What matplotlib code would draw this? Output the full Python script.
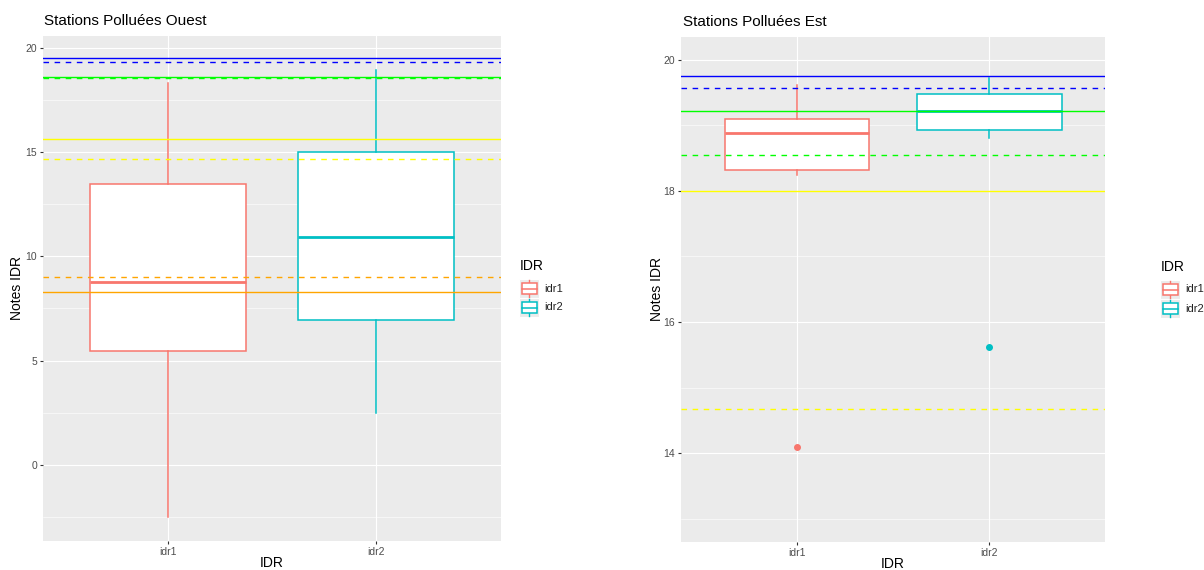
import matplotlib
matplotlib.use('Agg')
import matplotlib.pyplot as plt
from matplotlib.patches import Rectangle

plt.rcParams['font.family'] = ['Liberation Sans', 'DejaVu Sans']

W, H = 1204, 570

categories = ['idr1', 'idr2']
box_colors = ['#F8766D', '#00BFC4']

# Stations Polluees Ouest (box stats)
ouest_whislo = [-2.5, 2.48]
ouest_q1 = [5.47, 6.95]
ouest_med = [8.77, 10.93]
ouest_q3 = [13.48, 15.0]
ouest_whishi = [18.32, 18.93]
ouest_fliers = [[], []]
ouest_ref_solid = [19.49, 18.58, 15.61, 8.28]
ouest_ref_dashed = [19.31, 18.53, 14.67, 9.01]

# Stations Polluees Est
est_whislo = [18.24, 18.80]
est_q1 = [18.32, 18.93]
est_med = [18.88, 19.21]
est_q3 = [19.10, 19.48]
est_whishi = [19.61, 19.72]
est_fliers = [[14.09], [15.62]]
est_ref_solid = [19.75, 19.22, 18.0]
est_ref_dashed = [19.57, 18.54, 14.67]

ref_colors = ['blue', '#00FF00', '#FFFF00', '#FFA500']


def px_axes(fig, x0, y0, x1, y1):
    return fig.add_axes([x0 / W, 1 - y1 / H, (x1 - x0) / W, (y1 - y0) / H])


def panel(ax, whislo, q1, med, q3, whishi, fliers, solid, dashed, ylim, ticks, minor):
    stats = []
    for i in range(len(categories)):
        stats.append(dict(whislo=whislo[i], q1=q1[i], med=med[i], q3=q3[i],
                          whishi=whishi[i], fliers=fliers[i]))
    bp = ax.bxp(stats, positions=[1, 2], widths=0.75, patch_artist=True,
                showcaps=False, zorder=2)
    for i, c in enumerate(box_colors):
        bp['boxes'][i].set(facecolor='white', edgecolor=c, linewidth=1.1)
        bp['medians'][i].set(color=c, linewidth=2.0)
        for w in bp['whiskers'][2 * i:2 * i + 2]:
            w.set(color=c, linewidth=1.1)
        bp['fliers'][i].set(marker='o', markerfacecolor=c, markeredgecolor=c,
                            markersize=4)
    for v, c in zip(solid, ref_colors):
        ax.axhline(v, color=c, linewidth=1.0, zorder=3)
    for v, c in zip(dashed, ref_colors):
        ax.axhline(v, color=c, linewidth=1.0, linestyle=(0, (4, 4)), zorder=3)

    ax.set_xlim(0.4, 2.6)
    ax.set_ylim(*ylim)
    ax.set_xticks([1, 2])
    ax.set_xticklabels(categories)
    ax.set_yticks(ticks)
    ax.set_yticks(minor, minor=True)
    ax.set_facecolor('#EBEBEB')
    ax.set_axisbelow(True)
    ax.grid(which='major', color='white', linewidth=0.8)
    ax.grid(which='minor', axis='y', color='white', linewidth=0.4)
    for s in ax.spines.values():
        s.set_visible(False)
    ax.tick_params(which='major', length=2.5, width=0.8, color='#333333',
                   labelsize=7.5, labelcolor='#4D4D4D', pad=2)
    ax.tick_params(which='minor', length=0)
    ax.set_xlabel('IDR', fontsize=10, va='center')
    ax.set_ylabel('Notes IDR', fontsize=10, va='center')
    ax.xaxis.set_label_coords(0.5, -0.044)
    ax.yaxis.set_label_coords(-0.058, 0.5)


fig = plt.figure(figsize=(W / 100, H / 100), dpi=100)

ax1 = px_axes(fig, 43.3, 35.7, 500.7, 540.7)
panel(ax1, ouest_whislo, ouest_q1, ouest_med, ouest_q3, ouest_whishi, ouest_fliers,
      ouest_ref_solid, ouest_ref_dashed, (-3.63, 20.575),
      [0, 5, 10, 15, 20], [-2.5, 2.5, 7.5, 12.5, 17.5])

ax2 = px_axes(fig, 681.3, 36.7, 1105, 541.7)
panel(ax2, est_whislo, est_q1, est_med, est_q3, est_whishi, est_fliers,
      est_ref_solid, est_ref_dashed, (12.65, 20.35),
      [14, 16, 18, 20], [13, 15, 17, 19])

# overlay in pixel coordinates for titles and legends
ov = fig.add_axes([0, 0, 1, 1])
ov.set_xlim(0, W)
ov.set_ylim(H, 0)
ov.axis('off')
ov.patch.set_alpha(0)

ov.text(44, 21, 'Stations Polluées Ouest', fontsize=11, va='center', ha='left')
ov.text(683, 22, 'Stations Polluées Est', fontsize=11, va='center', ha='left')


def legend(x, y):
    ov.text(x + 1, y, 'IDR', fontsize=10, va='center', ha='left')
    top = y + 13
    for i, (lab, c) in enumerate(zip(categories, box_colors)):
        y0 = top + i * 19
        ov.add_patch(Rectangle((x, y0), 20, 19, facecolor='#EBEBEB',
                               edgecolor='white', linewidth=0.8, zorder=1))
        cy = y0 + 9.5
        ov.plot([x + 10, x + 10], [y0 + 1, y0 + 18], color=c, linewidth=1.0, zorder=2)
        ov.add_patch(Rectangle((x + 2.5, cy - 5.5), 15, 11, facecolor='white',
                               edgecolor=c, linewidth=1.1, zorder=3))
        ov.plot([x + 2.5, x + 17.5], [cy, cy], color=c, linewidth=1.1, zorder=4)
        ov.text(x + 25, cy, lab, fontsize=8, va='center', ha='left', color='#222222')


legend(519, 266)
legend(1160, 267)

plt.savefig('out.png', dpi=100)
